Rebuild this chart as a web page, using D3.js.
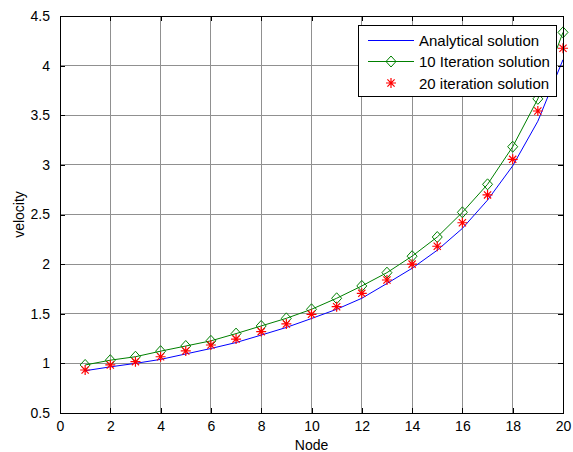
<!DOCTYPE html>
<html>
<head>
<meta charset="utf-8">
<script src="https://cdnjs.cloudflare.com/ajax/libs/d3/7.8.5/d3.min.js"></script>
<style>
  body { margin: 0; background: #ffffff; }
  text { font-family: "Liberation Sans", Arial, sans-serif; fill: #000; }
</style>
</head>
<body>
<script>
// values
var nodes = [1, 2, 3, 4, 5, 6, 7, 8, 9, 10, 11, 12, 13, 14, 15, 16, 17, 18, 19, 20];
var analytical = [0.926, 0.965, 1.0, 1.04, 1.095, 1.15, 1.21, 1.285, 1.362, 1.452, 1.545, 1.656, 1.805, 1.958, 2.14, 2.36, 2.645, 2.99, 3.44, 4.06];
var iter10 = [0.984, 1.032, 1.067, 1.123, 1.175, 1.227, 1.3, 1.377, 1.454, 1.545, 1.656, 1.78, 1.914, 2.08, 2.273, 2.522, 2.804, 3.183, 3.665, 4.335];
var iter20 = [0.933, 0.984, 1.017, 1.067, 1.125, 1.185, 1.245, 1.32, 1.397, 1.494, 1.571, 1.706, 1.84, 2.0, 2.18, 2.417, 2.697, 3.056, 3.543, 4.175];
var xTicks = [0, 2, 4, 6, 8, 10, 12, 14, 16, 18, 20];
var yTicks = [0.5, 1, 1.5, 2, 2.5, 3, 3.5, 4, 4.5];
var legendLabels = ["Analytical solution", "10 Iteration solution", "20 iteration solution"];

var width = 573;
var height = 452;
var margin = {left: 60, right: 10, top: 16, bottom: 39};

var svg = d3.select("body")
    .append("svg")
    .attr("width", width)
    .attr("height", height);

var x = d3.scaleLinear()
    .domain([0, 20])
    .range([margin.left, width - margin.right]);

var y = d3.scaleLinear()
    .domain([0.5, 4.5])
    .range([height - margin.bottom, margin.top]);

var x0 = x.range()[0], x1 = x.range()[1];
var y0 = y.range()[0], y1 = y.range()[1];

// grid
var grid = svg.append("g").attr("shape-rendering", "crispEdges");
grid.selectAll("line.gx")
    .data(xTicks.slice(1, -1))
    .enter().append("line")
    .attr("x1", d => x(d)).attr("x2", d => x(d))
    .attr("y1", y0).attr("y2", y1)
    .attr("stroke", "#909090").attr("stroke-width", 1);
grid.selectAll("line.gy")
    .data(yTicks.slice(1, -1))
    .enter().append("line")
    .attr("x1", x0).attr("x2", x1)
    .attr("y1", d => y(d)).attr("y2", d => y(d))
    .attr("stroke", "#909090").attr("stroke-width", 1);

// lines
var line = d3.line()
    .x((d, i) => x(nodes[i]))
    .y(d => y(d));

svg.append("path")
    .datum(analytical)
    .attr("d", line)
    .attr("fill", "none")
    .attr("stroke", "#0000ff")
    .attr("stroke-width", 1);

svg.append("path")
    .datum(iter10)
    .attr("d", line)
    .attr("fill", "none")
    .attr("stroke", "#008000")
    .attr("stroke-width", 1);

function diamondPath(cx, cy) {
    var w = 5, h = 5.5;
    return "M" + cx + "," + (cy - h) + "L" + (cx + w) + "," + cy +
        "L" + cx + "," + (cy + h) + "L" + (cx - w) + "," + cy + "Z";
}

function starPath(cx, cy) {
    var r = 5, s = 3.6;
    return "M" + (cx - r) + "," + cy + "L" + (cx + r) + "," + cy +
        "M" + cx + "," + (cy - r) + "L" + cx + "," + (cy + r) +
        "M" + (cx - s) + "," + (cy - s) + "L" + (cx + s) + "," + (cy + s) +
        "M" + (cx - s) + "," + (cy + s) + "L" + (cx + s) + "," + (cy - s);
}

svg.append("g").selectAll("path")
    .data(iter10)
    .enter().append("path")
    .attr("d", (d, i) => diamondPath(x(nodes[i]), y(d)))
    .attr("fill", "none")
    .attr("stroke", "#008000")
    .attr("stroke-width", 1);

svg.append("g").selectAll("path")
    .data(iter20)
    .enter().append("path")
    .attr("d", (d, i) => starPath(x(nodes[i]), y(d)))
    .attr("fill", "none")
    .attr("stroke", "#ff0000")
    .attr("stroke-width", 1.2);

// axes, ticks point inward on all four sides
var tickLen = 5;
var axes = svg.append("g").attr("shape-rendering", "crispEdges");

axes.append("g")
    .attr("transform", "translate(0," + y0 + ")")
    .call(d3.axisBottom(x).tickValues(xTicks).tickSize(-tickLen).tickPadding(8).tickFormat(d3.format("d")));
axes.append("g")
    .attr("transform", "translate(0," + y1 + ")")
    .call(d3.axisTop(x).tickValues(xTicks).tickSize(-tickLen).tickFormat(""));
axes.append("g")
    .attr("transform", "translate(" + x0 + ",0)")
    .call(d3.axisLeft(y).tickValues(yTicks).tickSize(-tickLen).tickPadding(10).tickFormat(d3.format("")));
axes.append("g")
    .attr("transform", "translate(" + x1 + ",0)")
    .call(d3.axisRight(y).tickValues(yTicks).tickSize(-tickLen).tickFormat(""));

axes.selectAll(".domain").remove();
axes.selectAll(".tick line").attr("stroke", "#000");
axes.selectAll(".tick text")
    .style("font-size", "14px")
    .style("font-family", "'Liberation Sans', Arial, sans-serif")
    .attr("fill", "#000");

axes.append("rect")
    .attr("x", x0).attr("y", y1)
    .attr("width", x1 - x0).attr("height", y0 - y1)
    .attr("fill", "none")
    .attr("stroke", "#000")
    .attr("stroke-width", 1);

// axis labels
svg.append("text")
    .attr("x", (x0 + x1) / 2)
    .attr("y", 450)
    .attr("text-anchor", "middle")
    .style("font-size", "14px")
    .text("Node");

svg.append("text")
    .attr("transform", "translate(24," + ((y0 + y1) / 2) + ") rotate(-90)")
    .attr("text-anchor", "middle")
    .style("font-size", "14px")
    .text("velocity");

// legend
var legend = svg.append("g");
legend.append("rect")
    .attr("x", 358).attr("y", 25)
    .attr("width", 198).attr("height", 71)
    .attr("fill", "#fff")
    .attr("stroke", "#000")
    .attr("stroke-width", 1)
    .attr("shape-rendering", "crispEdges");

var rowY = [40.5, 61.5, 83];
legendLabels.forEach(function(lab, i) {
    var ly = rowY[i];
    if (i < 2) {
        legend.append("line")
            .attr("x1", 368).attr("x2", 414)
            .attr("y1", ly).attr("y2", ly)
            .attr("stroke", i === 0 ? "#0000ff" : "#008000")
            .attr("stroke-width", 1);
    }
    if (i === 1) {
        legend.append("path")
            .attr("d", diamondPath(391, ly))
            .attr("fill", "none").attr("stroke", "#008000");
    }
    if (i === 2) {
        legend.append("path")
            .attr("d", starPath(391, ly))
            .attr("fill", "none").attr("stroke", "#ff0000").attr("stroke-width", 1.2);
    }
    legend.append("text")
        .attr("x", 419)
        .attr("y", ly + 5.5)
        .style("font-size", "15px")
        .text(lab);
});
</script>
</body>
</html>
